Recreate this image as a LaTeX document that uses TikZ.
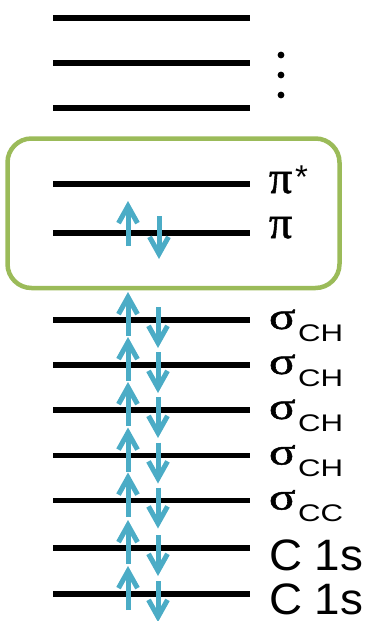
\documentclass[tikz,border=0pt]{standalone}
\usepackage{fontspec}
\usepackage{graphicx}
\setmainfont{Liberation Sans}
\newfontfamily\grk[FakeBold=1.2]{Liberation Serif}
\usetikzlibrary{arrows.meta}
\definecolor{spinblue}{HTML}{4BACC6}
\definecolor{boxgreen}{HTML}{9BBB59}
\begin{document}
\begin{tikzpicture}[x=1pt,y=-1pt,
  level/.style={line width=5.5pt},
  spin/.style={spinblue, line width=5pt, -{Straight Barb[length=17pt,width=19pt]}},
  lbl/.style={anchor=base west, inner sep=0pt, outer sep=0pt},
  greek/.style={font=\grk\fontsize{46}{46}\selectfont},
  sub/.style={font=\fontsize{24}{24}\selectfont},
  big/.style={font=\fontsize{44}{44}\selectfont, text depth=0pt},
]
\useasboundingbox (0,0) rectangle (370,621);
% levels
\foreach \y [count=\i] in {18,63,108,184,233,320,365,410,455.5,500.5,548,594}
  \draw[level] (53,\y) -- (250,\y);
% dots
\foreach \y in {55,75,95}
  \fill (281,\y) circle (3.4pt);
% green box
\draw[boxgreen, line width=4.5pt, rounded corners=24pt] (7.5,138.5) rectangle (339.5,288);
% pi spins
\draw[spin] (128,246) -- (128,201);
\draw[spin] (159,216) -- (159,259);
% sigma and core spins
\foreach \L in {320,365,410,455.5,500.5,548,594}{
  \draw[spin] (128,\L+16) -- (128,\L-28);
  \draw[spin] (158,\L-13) -- (158,\L+28);
}
% labels
\node[lbl,greek] (pistar) at (269,193) {π};
\node[lbl,font=\fontsize{33}{33}\selectfont] (ast) at (295,188) {*};
\node[lbl,greek] (pi) at (269,238) {π};
\foreach \L/\s [count=\i] in {320/CH,365/CH,410/CH,455.5/CH,500.5/CC}{
  \node[lbl,font=\grk\fontsize{38}{38}\selectfont] (sig\i) at (269,\L+9) {\scalebox{1.3}[1]{σ}};
  \node[lbl,sub] (sub\i) at (298,\L+21) {\scalebox{1.3}[1]{\s}};
}
\node[lbl,big] (c1) at (269,570) {\scalebox{1.04}[1]{C 1s}};
\node[lbl,big] (c2) at (269,614) {\scalebox{1.04}[1]{C 1s}};
\end{tikzpicture}
\end{document}
